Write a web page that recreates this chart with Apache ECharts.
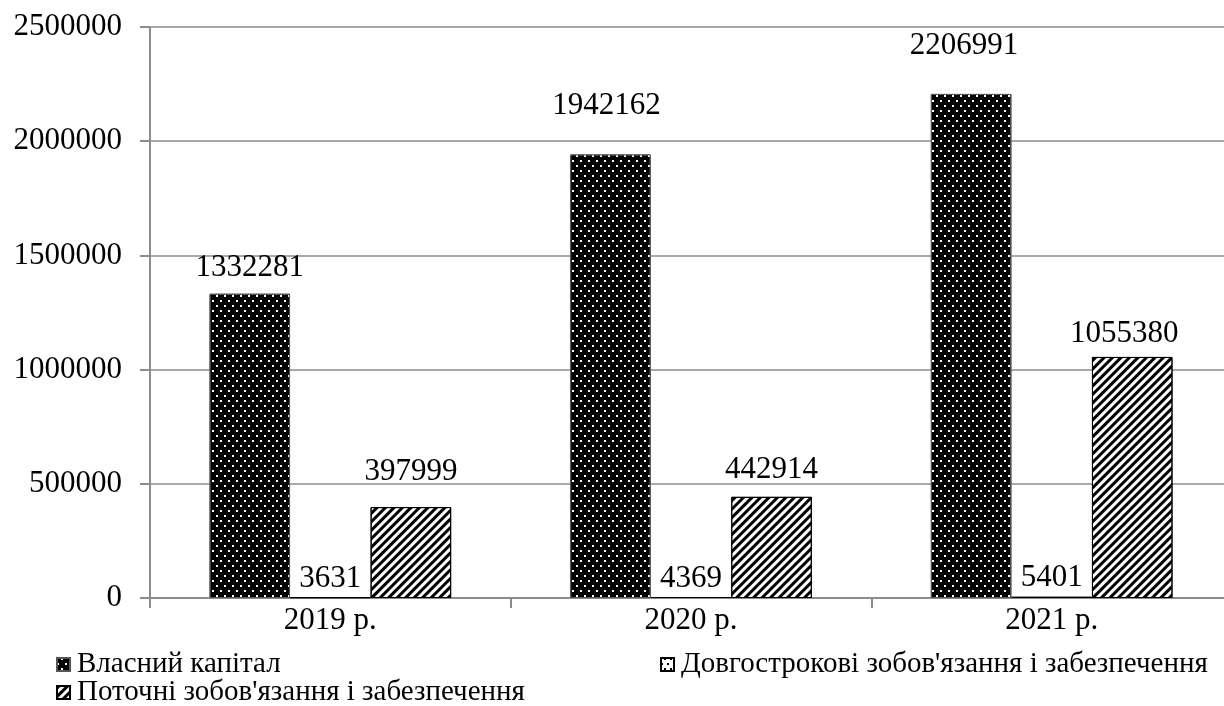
<!DOCTYPE html>
<html>
<head>
<meta charset="utf-8">
<script src="https://cdn.jsdelivr.net/npm/echarts@6/dist/echarts.min.js"></script>
<style>
html,body{margin:0;padding:0;background:#fff;overflow:hidden;}
#chart{width:1234px;height:706px;}
</style>
</head>
<body>
<div id="chart"></div>
<script>
// Balance-sheet structure by year
const years = ['2019 р.', '2020 р.', '2021 р.'];
const seriesNames = ['Власний капітал', 'Довгострокові зобов\'язання і забезпечення', 'Поточні зобов\'язання і забезпечення'];
const equity = [1332281, 1942162, 2206991];
const longTerm = [3631, 4369, 5401];
const current = [397999, 442914, 1055380];
const yTicks = [0, 500000, 1000000, 1500000, 2000000, 2500000];

// manual nudges of individual value labels [dx, dy] in px (negative dy = up)
const equityLabelShift = [[0, -2], [-4, -25], [-7, -25]];
const longTermLabelShift = [[0, 5], [0, 5], [0, 5]];
const currentLabelShift = [[0, -12], [0, -3], [-8, 0]];

const FONT = '"Liberation Serif", "Times New Roman", serif';
const FS = 31;
const LEGEND_FS = 29;

// fill patterns
const darkDots = {
  symbol: 'rect', symbolSize: 1, color: '#fff',
  dashArrayX: [[2, 6], [0, 4, 2, 2]],
  dashArrayY: [2, 3], rotation: 0
};
const lightDots = {
  symbol: 'rect', symbolSize: 1, color: '#000',
  dashArrayX: [[2, 4], [0, 3, 2, 1]],
  dashArrayY: [2, 3], rotation: 0
};
const hatch = {
  symbol: 'rect', symbolSize: 1, color: '#000',
  dashArrayX: [1, 0], dashArrayY: [2.4, 2.4],
  rotation: -Math.PI / 4
};

function makeSeries(name, values, shifts, base, decal, border) {
  return {
    name: name, type: 'bar',
    data: values.map(function (v, i) {
      return { value: v, label: { offset: shifts[i] } };
    }),
    barGap: '0%', barCategoryGap: '33%',
    itemStyle: { color: base, decal: decal, borderColor: border, borderWidth: 1 },
    label: {
      show: true, position: 'top', distance: 8,
      fontFamily: FONT, fontSize: FS, color: '#000'
    },
    emphasis: { disabled: true }
  };
}

function legendAt(name, left, top) {
  return {
    data: [name], left: left, top: top, orient: 'horizontal',
    itemWidth: 13, itemHeight: 13, itemGap: 0, padding: 0,
    textStyle: { fontFamily: FONT, fontSize: LEGEND_FS, color: '#000', lineHeight: 26, padding: [0, 0, 0, 2] },
    icon: 'rect', selectedMode: false
  };
}

const chart = echarts.init(document.getElementById('chart'), null, { renderer: 'canvas' });
chart.setOption({
  animation: false,
  backgroundColor: '#fff',
  aria: { enabled: false },
  // plot area runs slightly past the visible right edge
  grid: { left: 150, right: 2, top: 27, bottom: 108, containLabel: false },
  legend: [
    legendAt(seriesNames[0], 56, 650),
    legendAt(seriesNames[1], 660, 650),
    legendAt(seriesNames[2], 56, 678)
  ],
  xAxis: {
    type: 'category', data: years,
    axisLine: { lineStyle: { color: '#8c8c8c', width: 2 } },
    axisTick: { show: true, length: 10, alignWithLabel: false, lineStyle: { color: '#8c8c8c', width: 2 } },
    axisLabel: { fontFamily: FONT, fontSize: FS, color: '#000', margin: 7 }
  },
  yAxis: {
    type: 'value', min: yTicks[0], max: yTicks[yTicks.length - 1], interval: 500000,
    axisLine: { show: true, lineStyle: { color: '#8c8c8c', width: 2 } },
    axisTick: { show: true, length: 10, inside: false, lineStyle: { color: '#8c8c8c', width: 2 } },
    splitLine: { show: true, lineStyle: { color: '#8c8c8c', width: 1.5 } },
    axisLabel: {
      fontFamily: FONT, fontSize: FS, color: '#000', margin: 28,
      formatter: function (v) { return String(v); }
    }
  },
  series: [
    makeSeries(seriesNames[0], equity, equityLabelShift, '#000', darkDots, '#555'),
    makeSeries(seriesNames[1], longTerm, longTermLabelShift, '#fff', lightDots, '#000'),
    makeSeries(seriesNames[2], current, currentLabelShift, '#fff', hatch, '#000')
  ]
});
</script>
</body>
</html>
